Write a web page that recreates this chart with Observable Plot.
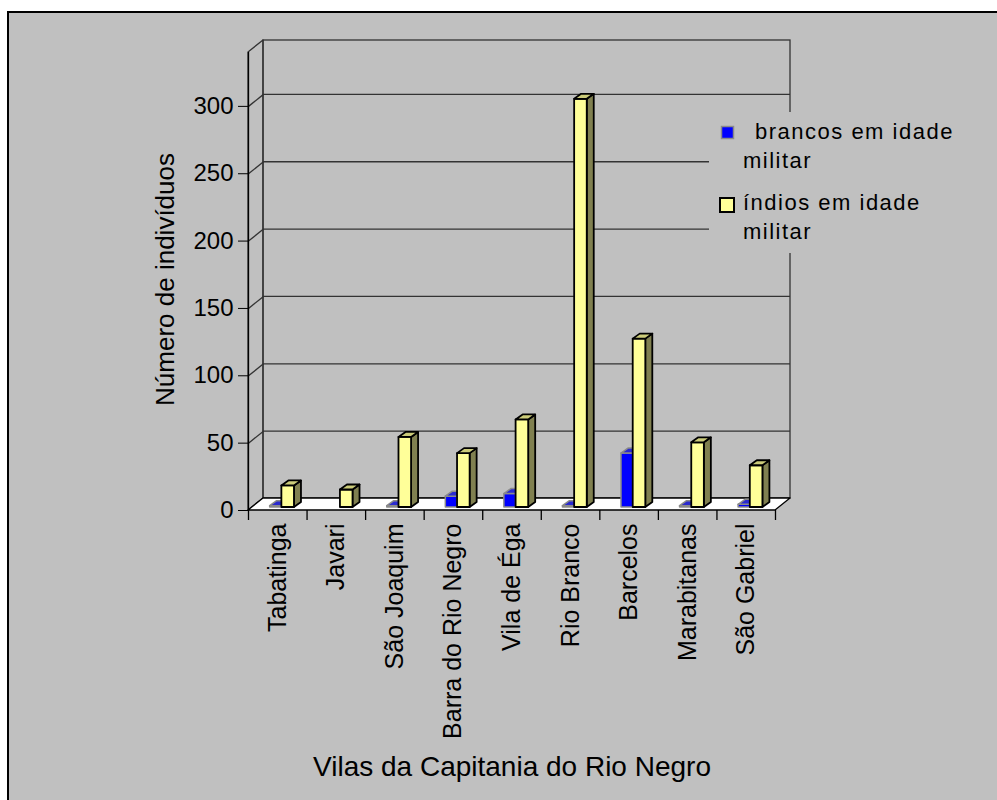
<!DOCTYPE html>
<html><head><meta charset="utf-8">
<script src="https://cdn.jsdelivr.net/npm/d3@7"></script>
<script src="https://cdn.jsdelivr.net/npm/@observablehq/plot@0.6"></script>
<style>
body{margin:0;background:#fff;font-family:"Liberation Sans",Arial,sans-serif}
#wrap{position:relative;width:997px;height:800px;overflow:hidden}
#bg{position:absolute;left:7px;top:11px;width:1100px;height:900px;background:#c0c0c0;border-left:2px solid #000;border-top:2px solid #000}
#chart{position:absolute;left:0;top:0}
</style>
</head><body>
<div id="wrap"><div id="bg"></div><div id="chart"></div></div>
<script>
const categories = ["Tabatinga","Javari","São Joaquim","Barra do Rio Negro","Vila de Éga","Rio Branco","Barcelos","Marabitanas","São Gabriel"];
const brancos = [1, null, 1, 8, 10, 1, 40, 1, 2];
const indios  = [16, 13, 52, 40, 65, 303, 125, 48, 31];
const seriesLabels = [["brancos em idade", "militar"], ["índios em idade", "militar"]];
const yTicks = [0, 50, 100, 150, 200, 250, 300];
const xTitle = "Vilas da Capitania do Rio Negro";
const yTitle = "Número de indivíduos";

const W = 997, H = 800, mL = 248, mR = 222, mT = 52, mB = 290, yMax = 340;
const n = categories.length;
const kx = (W - mL - mR) / n, ky = (H - mT - mB) / yMax;
const Dx = 15 / kx, Dy = 12 / ky;   // wall depth
const bx = 7 / kx, by = 5 / ky;     // bar depth
const baseDy = -3;

const styles = [
  {front: "#0000ff", top: "#2a2ad0", side: "#000099", stroke: "#8a8a8a", sw: 1.5, x1: 0.37, x2: 0.57},
  {front: "#ffff99", top: "#cccc7a", side: "#808050", stroke: "#000", sw: 1.8, x1: 0.57, x2: 0.785}
];
const seriesVals = [brancos, indios];

function barMarks(s) {
  const st = styles[s];
  const bars = seriesVals[s].map((v, i) => ({key: i, v, x1: i + st.x1, x2: i + st.x2})).filter(d => d.v != null);
  const side = bars.flatMap(d => [{key: d.key, x: d.x2, y1: 0, y2: d.v}, {key: d.key, x: d.x2 + bx, y1: by, y2: d.v + by}]);
  const top = bars.flatMap(d => [{key: d.key, y: d.v, x1: d.x1, x2: d.x2}, {key: d.key, y: d.v + by, x1: d.x1 + bx, x2: d.x2 + bx}]);
  const common = {stroke: st.stroke, strokeWidth: st.sw, strokeLinejoin: "round", dy: baseDy};
  return [
    Plot.areaY(side, {x: "x", y1: "y1", y2: "y2", z: "key", fill: st.side, ...common}),
    Plot.rect(bars, {x1: "x1", x2: "x2", y1: d => 0, y2: "v", fill: st.front, ...common}),
    Plot.areaX(top, {y: "y", x1: "x1", x2: "x2", z: "key", fill: st.top, ...common})
  ];
}

const gridVals = yTicks.filter(v => v > 0);

const chart = Plot.plot({
  width: W, height: H,
  marginLeft: mL, marginRight: mR, marginTop: mT, marginBottom: mB,
  x: {domain: [0, n], axis: null},
  y: {domain: [0, yMax]},
  style: {fontFamily: "Liberation Sans, Arial, sans-serif", background: "transparent", color: "#000", overflow: "visible"},
  marks: [
    Plot.rect([0], {x1: () => Dx, x2: () => n + Dx, y1: () => Dy, y2: () => yMax + Dy, fill: "none", stroke: "#333", strokeWidth: 1.3}),
    Plot.areaY([{x: 0, y1: 0, y2: yMax}, {x: Dx, y1: Dy, y2: yMax + Dy}], {x: "x", y1: "y1", y2: "y2", fill: "none", stroke: "#333", strokeWidth: 1.3}),
    Plot.ruleY(gridVals, {y: v => v + Dy, x1: () => Dx, x2: () => n + Dx, stroke: "#333", strokeWidth: 1.3}),
    Plot.link(gridVals, {x1: () => 0, y1: v => v, x2: () => Dx, y2: v => v + Dy, stroke: "#333", strokeWidth: 1.3}),
    Plot.areaX([{y: 0, x1: 0, x2: n}, {y: Dy, x1: Dx, x2: n + Dx}], {y: "y", x1: "x1", x2: "x2", fill: "#fff", stroke: "#000", strokeWidth: 1.3}),
    ...barMarks(0),
    ...barMarks(1),
    Plot.ruleX([0], {y1: () => -10 / ky, y2: () => yMax, stroke: "#000", strokeWidth: 1.3}),
    Plot.ruleX(d3.range(1, n + 1), {y1: () => 0, y2: () => -10 / ky, stroke: "#000", strokeWidth: 1.3}),
    Plot.axisY(yTicks, {anchor: "left", tickSize: 10, tickPadding: 5, fontSize: 24, label: null}),
    Plot.text(categories, {x: (d, i) => i + 0.5, y: () => 0, dy: 13, rotate: -90, textAnchor: "end", fontSize: 25, fill: "#000"}),
    Plot.text([xTitle], {frameAnchor: "bottom", dy: 257, textAnchor: "middle", lineAnchor: "middle", fontSize: 28, fill: "#000"}),
    Plot.text([yTitle], {x: () => -83 / kx, y: () => yMax / 2 + 1.5, rotate: -90, textAnchor: "middle", lineAnchor: "middle", fontSize: 26, fill: "#000"})
  ]
});
document.getElementById("chart").appendChild(chart);

// legend
const svg = d3.select(chart);
const lg = svg.append("g").attr("font-family", "Liberation Sans, Arial, sans-serif").attr("font-size", 22).attr("letter-spacing", "1.5px").attr("fill", "#000").attr("text-anchor", "start");
lg.append("rect").attr("x", 709).attr("y", 112).attr("width", 260).attr("height", 141).attr("fill", "#c0c0c0");
lg.append("rect").attr("x", 721.5).attr("y", 126.5).attr("width", 12).attr("height", 12).attr("fill", styles[0].front).attr("stroke", "#8a8a8a").attr("stroke-width", 1.5);
lg.append("text").attr("x", 755).attr("y", 139).attr("text-anchor", "start").text(seriesLabels[0][0]);
lg.append("text").attr("x", 743).attr("y", 168).attr("text-anchor", "start").text(seriesLabels[0][1]);
lg.append("rect").attr("x", 720).attr("y", 198).attr("width", 14).attr("height", 14).attr("fill", styles[1].front).attr("stroke", "#000").attr("stroke-width", 2);
lg.append("text").attr("x", 743).attr("y", 210).attr("text-anchor", "start").text(seriesLabels[1][0]);
lg.append("text").attr("x", 743).attr("y", 239).attr("text-anchor", "start").text(seriesLabels[1][1]);
</script>
</body></html>
